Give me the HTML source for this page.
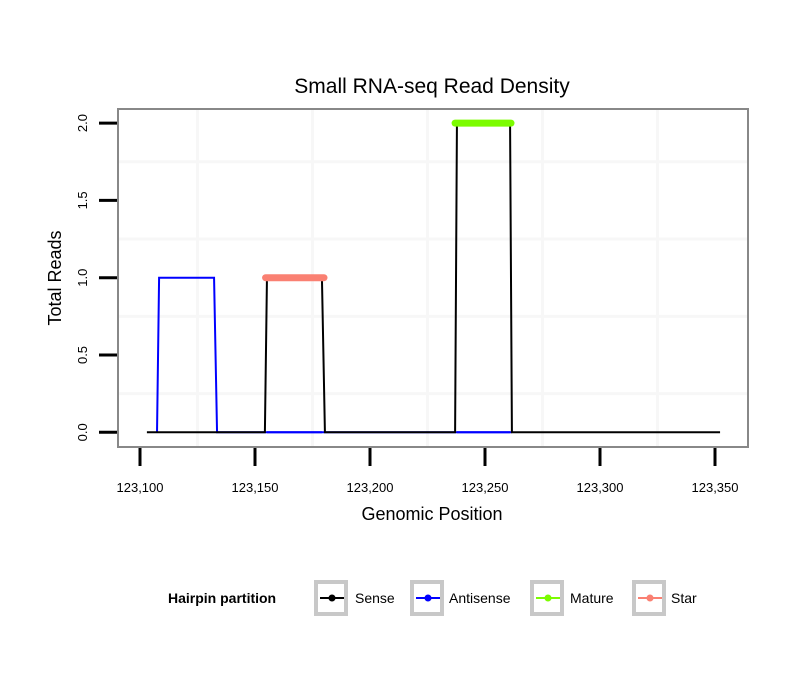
<!DOCTYPE html>
<html><head><meta charset="utf-8"><style>
body{margin:0;background:#fff;font-family:"Liberation Sans",sans-serif}
</style></head><body>
<svg width="810" height="690" xmlns="http://www.w3.org/2000/svg" font-family="Liberation Sans, sans-serif">
<rect width="810" height="690" fill="#fff"/>
<text x="432" y="93" font-size="21" text-anchor="middle">Small RNA-seq Read Density</text>
<g id="grid"></g>
<rect x="118" y="109" width="630" height="338" fill="none" stroke="#888" stroke-width="2"/>
<g id="axes"></g>
<g id="series"></g>
<text x="432" y="520" font-size="18" text-anchor="middle">Genomic Position</text>
<text transform="translate(61,278) rotate(-90)" font-size="18" text-anchor="middle">Total Reads</text>
<g>
<text x="168" y="603" font-size="14" font-weight="bold">Hairpin partition</text>
<g id="legend-keys"></g>
</g>
</svg>
<script>
const xTicks=[123100,123150,123200,123250,123300,123350];
const xTickLabels=["123,100","123,150","123,200","123,250","123,300","123,350"];
const yTicks=[0,0.5,1,1.5,2];
const yTickLabels=["0.0","0.5","1.0","1.5","2.0"];
const senseX=[123103,123154.3,123155.2,123179.1,123180.4,123237,123237.8,123260.9,123261.7,123352.2];
const senseY=[0,0,1,1,0,0,2,2,0,0];
const antiX=[123107.4,123108.3,123132.2,123133.5,123261.7];
const antiY=[0,1,1,0,0];
const matureX=[123237,123261.3];
const matureY=[2,2];
const starX=[123154.6,123180];
const starY=[1,1];
const legendNames=["Sense","Antisense","Mature","Star"];
const legendColors=["#000000","#0000ff","#7cfc00","#fa8072"];
const NS="http://www.w3.org/2000/svg";
function sx(v){return 140+(v-123100)*2.3;}
function sy(v){return 432.3-v*154.6;}
function mk(t,a,p){const e=document.createElementNS(NS,t);for(const k in a)e.setAttribute(k,a[k]);p.appendChild(e);return e;}
const grid=document.getElementById('grid'),axes=document.getElementById('axes'),ser=document.getElementById('series');
for(let i=0;i<xTicks.length;i++){
 const gx=sx(xTicks[i]);
 const mx=sx(xTicks[i]+25);
 if(mx<747){const m=mk('line',{x1:mx,x2:mx,y1:110,y2:446,stroke:'#f7f7f7','stroke-width':3},grid);
 }
 const t=mk('line',{x1:gx,x2:gx,y1:448,y2:466,stroke:'#000','stroke-width':3},axes);
 
 const tx=mk('text',{x:gx,y:492,'font-size':13,'text-anchor':'middle'},axes);tx.textContent=xTickLabels[i];
 
}
for(let i=0;i<yTicks.length;i++){
 const gy=sy(yTicks[i]);
 if(i<yTicks.length-1){const my=sy(yTicks[i]+0.25);
 const m=mk('line',{x1:119,x2:747,y1:my,y2:my,stroke:'#f7f7f7','stroke-width':3},grid);
 }
 const t=mk('line',{x1:99,x2:117,y1:gy,y2:gy,stroke:'#000','stroke-width':3},axes);
 
 const tx=mk('text',{transform:`translate(87,${gy}) rotate(-90)`,'font-size':13,'text-anchor':'middle'},axes);tx.textContent=yTickLabels[i];
 
}
function pts(X,Y){return X.map((v,i)=>sx(v)+','+sy(Y[i])).join(' ');}
const a=mk('polyline',{points:pts(antiX,antiY),fill:'none',stroke:'#0000ff','stroke-width':2},ser);

const s=mk('polyline',{points:pts(senseX,senseY),fill:'none',stroke:'#000','stroke-width':2},ser);

const ab=mk('line',{x1:sx(senseX[2]),x2:sx(senseX[3]),y1:sy(0),y2:sy(0),stroke:'#0000ff','stroke-width':2},ser);

const ab2=mk('line',{x1:sx(senseX[6]),x2:sx(senseX[7]),y1:sy(0),y2:sy(0),stroke:'#0000ff','stroke-width':2},ser);

const st=mk('polyline',{points:pts(starX,starY),fill:'none',stroke:'#fa8072','stroke-width':7,'stroke-linecap':'round'},ser);

const mt=mk('polyline',{points:pts(matureX,matureY),fill:'none',stroke:'#7cfc00','stroke-width':7,'stroke-linecap':'round'},ser);

const lk=document.getElementById('legend-keys');
const boxX=[314,410,530,632],txtX=[355,449,570,671];
for(let i=0;i<legendNames.length;i++){
 const g=mk('g',{},lk);
 
 mk('rect',{x:boxX[i]+2,y:582,width:30,height:32,fill:'#fff',stroke:'#c8c8c8','stroke-width':4},g);
 mk('line',{x1:boxX[i]+6,x2:boxX[i]+30,y1:598,y2:598,stroke:legendColors[i],'stroke-width':2},g);
 mk('circle',{cx:boxX[i]+18,cy:598,r:3.5,fill:legendColors[i]},g);
 const t=mk('text',{x:txtX[i],y:603,'font-size':14},g);t.textContent=legendNames[i];
}
</script>
</body></html>
